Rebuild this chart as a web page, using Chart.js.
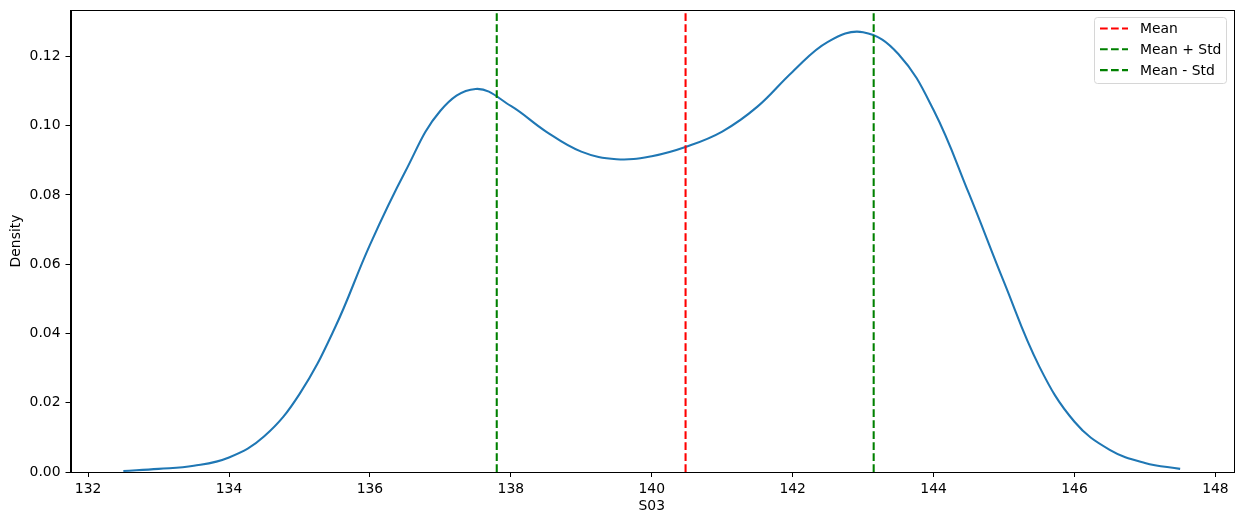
<!DOCTYPE html>
<html>
<head>
<meta charset="utf-8">
<script src="https://cdn.jsdelivr.net/npm/chart.js@4.4.1/dist/chart.umd.min.js"></script>
<style>
  html, body { margin: 0; padding: 0; background: #fff; }
</style>
</head>
<body>
<canvas id="kde" width="1242" height="525"></canvas>
<script>
// KDE of S03
const S03_X = [
  132.5, 133, 133.5, 134, 134.5, 135, 135.5, 136, 136.5, 137, 137.5,
  138, 138.5, 139, 139.5, 140, 140.5, 141, 141.5, 142, 142.5, 143,
  143.5, 144, 144.5, 145, 145.5, 146, 146.5, 147, 147.5,
];
const DENSITY = [
  0.0003, 0.0009, 0.0018, 0.0042, 0.0103, 0.0225, 0.0415, 0.0656, 0.0867, 0.1043, 0.1106,
  0.1057, 0.0983, 0.0925, 0.0903, 0.0912, 0.0940, 0.0983, 0.1055, 0.1156, 0.1242, 0.1270,
  0.1207, 0.1045, 0.0805, 0.0548, 0.0305, 0.0145, 0.0064, 0.0026, 0.0009,
];

// Reference lines (mean and mean +/- std)
const REF_LABELS = ["Mean", "Mean + Std", "Mean - Std"];
const REF_VALUES = [140.48, 143.15, 137.80];
const REF_COLORS = ["#ff0000", "#008000", "#008000"];

const X_TICKS = [132, 134, 136, 138, 140, 142, 144, 146, 148];
const Y_TICKS = [0, 0.02, 0.04, 0.06, 0.08, 0.10, 0.12];
const X_RANGE = [131.75, 148.25];
const Y_RANGE = [0, 0.1334];

const FONT = "'DejaVu Sans', sans-serif";
const LW = 2.08;          // 1.5pt at 100 dpi
const DASH = [7.7, 3.3];  // matplotlib "--" scaled by line width

Chart.defaults.color = "#000";
Chart.defaults.font.family = FONT;
Chart.defaults.font.size = 13.9;

// matplotlib-like frame (top/right spines) and legend box
const framePlugin = {
  id: "frame",
  afterDatasetsDraw(chart) {
    const { ctx, chartArea: a } = chart;
    ctx.save();
    ctx.strokeStyle = "#000";
    ctx.lineWidth = 1;
    ctx.strokeRect(Math.round(a.left) + 0.5, Math.round(a.top) + 0.5,
      Math.round(a.right - a.left), Math.round(a.bottom - a.top));

    // legend
    const bx = 1094.5, by = 17.5, bw = 132, bh = 66;
    ctx.fillStyle = "rgba(255,255,255,0.8)";
    ctx.strokeStyle = "#d6d6d6";
    ctx.beginPath();
    ctx.roundRect(bx, by, bw, bh, 3);
    ctx.fill();
    ctx.stroke();
    ctx.font = "13.9px " + FONT;
    ctx.textBaseline = "middle";
    REF_LABELS.forEach((label, i) => {
      const y = 28.5 + i * 20.8;
      ctx.strokeStyle = REF_COLORS[i];
      ctx.lineWidth = LW;
      ctx.setLineDash(DASH);
      ctx.beginPath();
      ctx.moveTo(1100, y);
      ctx.lineTo(1128, y);
      ctx.stroke();
      ctx.setLineDash([]);
      ctx.fillStyle = "#000";
      ctx.fillText(label, 1140, y + 1);
    });
    ctx.restore();
  },
};

const refSets = REF_LABELS.map((label, i) => ({
  label,
  data: [{ x: REF_VALUES[i], y: Y_RANGE[0] }, { x: REF_VALUES[i], y: Y_RANGE[1] }],
  borderColor: REF_COLORS[i],
  borderWidth: LW,
  borderDash: DASH,
  pointRadius: 0,
  fill: false,
}));

new Chart(document.getElementById("kde"), {
  type: "line",
  data: {
    datasets: [
      ...refSets,
      {
        label: "S03",
        data: S03_X.map((x, i) => ({ x, y: DENSITY[i] })),
        borderColor: "#1f77b4",
        borderWidth: LW,
        pointRadius: 0,
        tension: 0.4,
        fill: false,
      },
    ],
  },
  options: {
    responsive: false,
    devicePixelRatio: 1,
    animation: false,
    layout: { padding: { left: 0, right: 9, top: 10, bottom: 0 } },
    plugins: { legend: { display: false }, tooltip: { enabled: false } },
    scales: {
      x: {
        type: "linear",
        min: X_RANGE[0],
        max: X_RANGE[1],
        afterBuildTicks: (s) => { s.ticks = X_TICKS.map(v => ({ value: v })); },
        afterFit: (s) => { s.height = 53; s.paddingLeft = 0; s.paddingRight = 0; },
        grid: { drawOnChartArea: false, tickLength: 5, tickColor: "#000" },
        border: { color: "#000", width: 1 },
        ticks: { padding: 4, maxRotation: 0, callback: (v) => String(v) },
        title: { display: true, text: "S03", padding: { top: 0, bottom: 10 } },
      },
      y: {
        type: "linear",
        min: Y_RANGE[0],
        max: Y_RANGE[1],
        afterBuildTicks: (s) => { s.ticks = Y_TICKS.map(v => ({ value: v })); },
        afterFit: (s) => { s.width = 70.5; s.paddingTop = 0; s.paddingBottom = 0; },
        grid: { drawOnChartArea: false, tickLength: 5, tickColor: "#000" },
        border: { color: "#000", width: 1 },
        ticks: { padding: 5, callback: (v) => v.toFixed(2) },
        title: { display: true, text: "Density", padding: { top: 8, bottom: 0 } },
      },
    },
  },
  plugins: [framePlugin],
});
</script>
</body>
</html>
